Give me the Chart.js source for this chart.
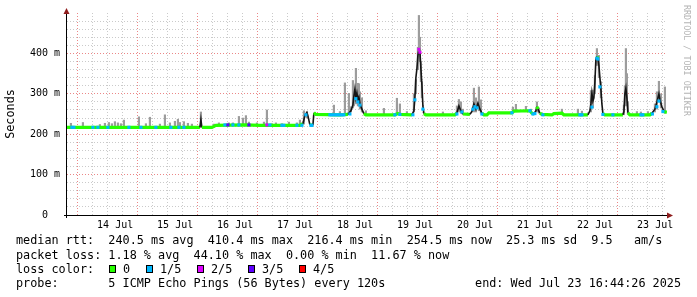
<!DOCTYPE html>
<html>
<head>
<meta charset="utf-8">
<script src="https://cdn.jsdelivr.net/npm/chart.js@4.4.1/dist/chart.umd.min.js"></script>
<style>
  html, body { margin: 0; padding: 0; background: #fff; }
  canvas { display: block; }
</style>
</head>
<body>
<canvas id="c" width="697" height="297"></canvas>
<script>
// x values are hours counted from 13 Jul 00:00
const startHour = 16.74, endHour = 256.74;
const dayLabels = ['14 Jul','15 Jul','16 Jul','17 Jul','18 Jul','19 Jul','20 Jul','21 Jul','22 Jul','23 Jul'];
const yTickText = ['0  ', '100 m', '200 m', '300 m', '400 m'];

// median rtt (ms)
const medianHours = [16.7,69.9,70.3,70.7,74.7,76.3,87.9,93.9,109.9,111.1,
  111.9,112.7,113.1,113.9,115.1,115.5,116.3,125.9,129.1,130.3,
  131.1,131.5,131.9,132.3,132.7,133.1,133.5,133.9,134.7,135.5,
  136.3,147.9,149.1,149.9,154.7,155.5,155.9,156.3,156.7,157.1,
  157.5,157.9,158.3,158.7,159.1,159.5,160.3,171.9,172.7,173.5,
  174.3,175.1,177.9,178.7,179.5,180.3,181.1,181.9,182.7,183.5,
  184.7,185.5,194.7,195.5,201.9,202.7,203.5,204.3,204.7,205.1,
  205.9,206.7,210.7,211.5,214.7,215.5,225.1,225.9,226.3,226.7,
  227.1,227.5,227.9,228.3,228.7,229.1,229.5,229.9,230.3,230.7,
  231.1,231.9,239.1,239.5,239.9,240.3,240.7,241.1,241.9,249.9,
  250.7,251.9,252.7,253.5,253.9,254.7,255.5,255.9,256.7];
const medianRtt = [217,217,236,217,217,222,223,222,222,226,
  246,254,246,223,222,253,249,248,249,258,
  272,295,312,290,302,285,292,276,262,251,
  248,248,251,249,248,258,290,340,362,395,
  410,405,362,322,270,251,248,248,253,270,
  258,250,249,256,275,262,277,262,252,248,
  248,253,253,257,258,252,250,258,268,262,
  252,249,248,251,252,248,248,258,275,302,
  282,290,330,385,392,388,370,340,312,275,
  251,248,248,256,300,314,290,253,248,248,
  252,262,280,300,286,268,257,255,254.5];

// smoke: spread of the pings
const smokeHours = [18.3,23.1,29.9,31.9,33.5,34.7,35.9,37.1,38.3,39.5,
  45.5,48.3,49.9,53.9,55.9,57.9,59.9,61.1,61.9,63.5,
  65.1,66.7,70.3,75.5,77.5,81.5,83.1,85.5,87.1,88.3,
  89.5,92.7,95.5,96.7,98.7,100.3,102.7,105.5,108.7,109.9,
  111.5,112.7,115.9,123.5,125.9,127.9,129.5,130.3,131.1,131.5,
  132.3,133.1,133.5,133.9,134.7,136.3,143.5,148.7,149.9,152.7,
  155.5,156.3,157.1,157.5,157.9,158.3,158.7,167.1,172.7,173.5,
  174.3,175.1,179.5,180.3,181.5,182.3,195.1,196.3,200.3,202.3,
  204.7,205.5,214.7,221.1,222.7,226.3,227.1,227.9,228.7,229.5,
  230.3,239.5,239.9,240.3,240.7,241.1,244.7,246.3,249.1,251.9,
  252.7,253.5,254.3,255.9];
const smokeLow = [217,217,217,217,217,217,217,217,217,217,
  217,217,217,217,217,217,217,217,217,217,
  217,217,217,217,222,222,222,222,222,222,
  222,222,222,222,222,222,222,222,222,222,
  225,240,248,248,248,248,249,255,265,270,
  275,270,270,262,255,248,248,249,249,248,
  255,300,360,380,380,330,290,248,248,255,
  252,249,255,255,258,252,253,257,257,255,
  255,252,252,248,248,255,265,300,370,340,
  290,248,270,290,270,250,248,248,248,255,
  262,280,265,252];
const smokeHigh = [227,229,224,227,229,226,231,228,226,235,
  243,226,242,225,248,228,232,237,229,231,
  227,225,255,225,228,228,228,244,240,246,
  230,228,230,260,226,228,226,230,228,235,
  258,255,253,272,256,327,301,268,333,310,
  363,326,325,305,290,258,264,289,275,256,
  300,335,415,494,440,380,330,255,270,286,
  280,262,314,290,317,285,267,274,269,262,
  280,265,262,262,257,308,309,345,412,395,
  330,272,320,412,350,280,256,255,256,275,
  305,331,300,317];

// samples with packet loss (level = lost pings out of 5)
const lossHours = [18.7,19.5,27.1,29.1,33.1,41.5,46.3,52.3,58.3,61.5,
  63.5,79.9,81.1,83.1,85.5,89.5,96.7,97.9,102.7,103.5,
  108.7,110.7,112.3,114.3,114.7,121.9,122.7,123.5,124.3,125.1,
  125.9,126.7,127.5,129.9,132.3,133.1,133.9,147.9,149.9,155.1,
  155.9,157.5,157.9,159.1,172.7,174.7,179.1,179.9,180.7,182.7,
  194.7,201.9,203.1,203.9,207.1,221.9,222.7,226.7,228.7,229.1,
  229.9,231.1,235.1,246.3,247.1,250.9,252.7,253.5,255.1];
const lossRtt = [217,217,217,217,217,217,217,217,217,217,
  217,223,223,223,223,223,223,223,222,222,
  222,222,248,222,222,248,248,248,248,248,
  248,248,248,250,288,280,272,248,249,248,
  285,410,403,262,250,255,262,268,265,250,
  253,258,250,251,248,248,248,267,388,386,
  317,249,248,248,248,250,268,282,256];
const lossLevel = [1,1,1,1,1,1,1,1,1,1,
  1,1,3,1,1,3,2,1,1,1,
  1,1,1,1,1,1,1,1,1,1,
  1,1,1,1,1,1,1,1,1,1,
  1,2,2,1,1,1,1,1,1,1,
  1,1,1,1,1,1,1,1,1,1,
  1,1,1,1,1,1,1,1,1];

const lossColors = ['#26ff00', '#00b8ff', '#dd00ff', '#5e00ff', '#ff0000'];
const lossNames = ['0', '1/5', '2/5', '3/5', '4/5'];

const rttLine = 'median rtt:  240.5 ms avg  410.4 ms max  216.4 ms min  254.5 ms now  25.3 ms sd  9.5   am/s';
const lossLine = 'packet loss: 1.18 % avg  44.10 % max  0.00 % min  11.67 % now';
const probeLine = 'probe:       5 ICMP Echo Pings (56 Bytes) every 120s';
const endLine = 'end: Wed Jul 23 16:44:26 2025';

const MONO = '"DejaVu Sans Mono", monospace';
const majorGrid = 'rgba(228,95,95,0.75)';
const minorGrid = 'rgba(150,150,150,0.5)';

const xTicks = [];
for (let h = 18; h < endHour; h += 6) xTicks.push(h);
const yTicks = [];
for (let v = 0; v <= 500; v += 20) yTicks.push(v);

// axes with arrows, labels and the legend rows below the graph
const decorations = {
  id: 'decorations',
  afterDatasetsDraw(chart) {
    const {ctx, chartArea: a} = chart;
    ctx.save();
    ctx.strokeStyle = '#000';
    ctx.lineWidth = 1;
    ctx.beginPath();
    ctx.moveTo(a.left - 0.5, a.bottom + 3);
    ctx.lineTo(a.left - 0.5, a.top - 2);
    ctx.moveTo(a.left - 3, a.bottom + 0.5);
    ctx.lineTo(a.right + 1, a.bottom + 0.5);
    ctx.stroke();
    ctx.fillStyle = '#8f1d1d';
    ctx.beginPath();
    ctx.moveTo(a.left - 0.5, a.top - 5);
    ctx.lineTo(a.left - 3.5, a.top + 1);
    ctx.lineTo(a.left + 2.5, a.top + 1);
    ctx.closePath();
    ctx.fill();
    ctx.beginPath();
    ctx.moveTo(a.right + 6, a.bottom + 0.5);
    ctx.lineTo(a.right, a.bottom - 2.5);
    ctx.lineTo(a.right, a.bottom + 3.5);
    ctx.closePath();
    ctx.fill();
    ctx.restore();
  },
  afterDraw(chart) {
    const ctx = chart.ctx;
    ctx.save();
    ctx.fillStyle = '#000';
    ctx.textBaseline = 'middle';
    ctx.font = '11.8px ' + MONO;
    ctx.fillText(rttLine, 16, 241);
    ctx.fillText(lossLine, 16, 255.5);
    ctx.fillText('loss color:', 16, 269.5);
    ctx.fillText(probeLine, 16, 283.5);
    ctx.textAlign = 'right';
    ctx.fillText(endLine, 681, 283.5);
    ctx.textAlign = 'left';

    const boxX = [109, 146, 197, 248, 299];
    lossNames.forEach((name, i) => {
      ctx.fillStyle = lossColors[i];
      ctx.fillRect(boxX[i], 265, 7, 8);
      ctx.strokeStyle = '#000';
      ctx.lineWidth = 1;
      ctx.strokeRect(boxX[i] + 0.5, 265.5, 6, 7);
      ctx.fillStyle = '#000';
      ctx.fillText(name, boxX[i] + 14, 269.5);
    });

    ctx.save();
    ctx.translate(11, 114);
    ctx.rotate(-Math.PI / 2);
    ctx.textAlign = 'center';
    ctx.fillText('Seconds', 0, 0);
    ctx.restore();

    ctx.save();
    ctx.translate(686, 5);
    ctx.rotate(Math.PI / 2);
    ctx.font = '8.4px ' + MONO;
    ctx.fillStyle = '#b4b4b4';
    ctx.fillText('RRDTOOL / TOBI OETIKER', 0, 0);
    ctx.restore();
    ctx.restore();
  }
};

const steep = c => Math.abs(c.p1.y - c.p0.y) > 2.5;

new Chart(document.getElementById('c'), {
  type: 'line',
  data: {
    datasets: [
      {
        type: 'bar',
        data: smokeHours.map((h, i) => ({x: h, y: [smokeLow[i], smokeHigh[i]]})),
        backgroundColor: '#9c9c9c',
        barThickness: 1.5,
        order: 3
      },
      {
        type: 'line',
        data: medianHours.map((h, i) => ({x: h, y: medianRtt[i]})),
        borderColor: lossColors[0],
        borderWidth: 3,
        pointRadius: 0,
        tension: 0,
        order: 2,
        segment: {
          borderColor: c => steep(c) ? '#151515' : lossColors[0],
          borderWidth: c => steep(c) ? 1.6 : 3.2
        }
      },
      {
        type: 'scatter',
        data: lossHours.map((h, i) => ({x: h, y: lossRtt[i]})),
        showLine: false,
        pointStyle: 'rect',
        pointRadius: 2.2,
        pointBorderWidth: 0,
        pointBackgroundColor: lossLevel.map(l => lossColors[l]),
        order: 1
      }
    ]
  },
  options: {
    responsive: false,
    animation: false,
    devicePixelRatio: 1,
    layout: {padding: {left: 0, top: 13, right: 30, bottom: 62}},
    plugins: {legend: {display: false}, tooltip: {enabled: false}},
    scales: {
      x: {
        type: 'linear', min: startHour, max: endHour, bounds: 'data', offset: false,
        afterBuildTicks: s => { s.ticks = xTicks.map(v => ({value: v})); },
        afterFit: s => { s.height = 20; s.paddingLeft = 0; s.paddingRight = 0; },
        ticks: {
          autoSkip: false, maxRotation: 0, padding: 4, color: '#000',
          font: {family: MONO, size: 10},
          callback: v => v % 24 === 12 ? dayLabels[(v - 36) / 24] : ''
        },
        grid: {drawTicks: false, lineWidth: 1, color: c => c.tick && c.tick.value % 24 === 0 ? majorGrid : minorGrid},
        border: {display: false, dash: [1, 2]}
      },
      y: {
        min: 0, max: 500,
        afterBuildTicks: s => { s.ticks = yTicks.map(v => ({value: v})); },
        afterFit: s => { s.width = 67; s.paddingTop = 0; s.paddingBottom = 0; },
        ticks: {
          autoSkip: false, padding: 7, color: '#000',
          font: {family: MONO, size: 10},
          callback: v => (v % 100 === 0 && v < 500) ? yTickText[v / 100] : ''
        },
        grid: {
          drawTicks: false, lineWidth: 1,
          color: c => {
            const v = c.tick ? c.tick.value : 0;
            if (v === 0 || v === 500) return 'transparent';
            return v % 100 === 0 ? majorGrid : minorGrid;
          }
        },
        border: {display: false, dash: [1, 2]}
      }
    }
  },
  plugins: [decorations]
});
</script>
</body>
</html>
